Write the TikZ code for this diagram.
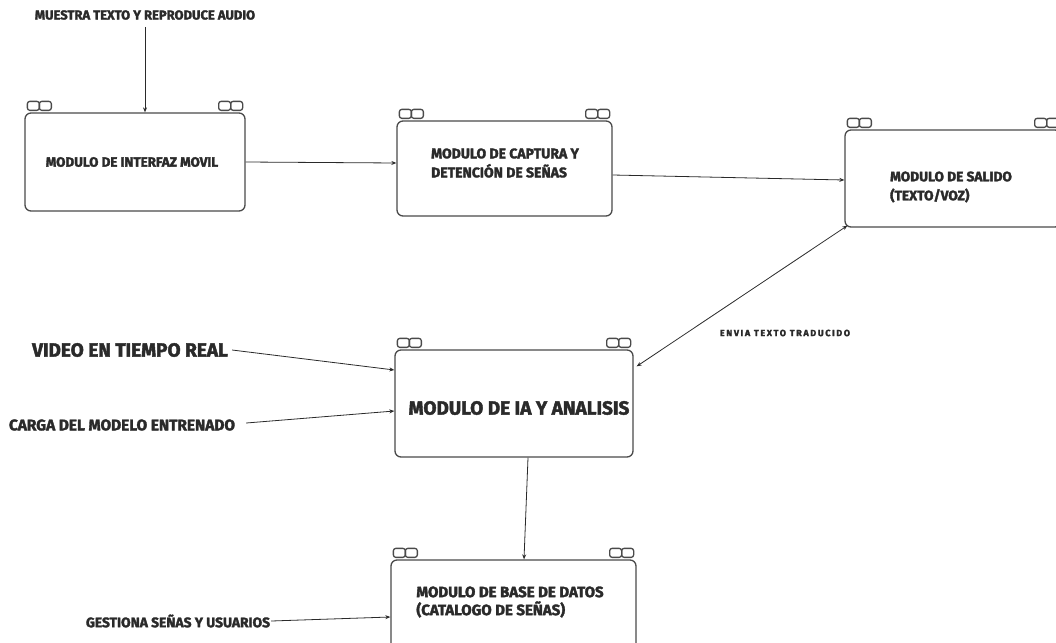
\documentclass[tikz,border=0pt]{standalone}
\usepackage{fontspec}
\setmainfont{Fira Sans}
\newfontfamily\hv{Fira Sans}[BoldFeatures={FakeBold=2.2}]
\usetikzlibrary{arrows.meta,calc}
\definecolor{ink}{HTML}{2A2A2A}
\definecolor{edge}{HTML}{4A4A4A}
\tikzset{
  modbox/.style={draw=edge,line width=1.3pt,rounded corners=6pt,inner sep=0pt},
  boxtext/.style={text=ink,inner sep=0pt,align=left,font=\hv\bfseries},
  lbl/.style={text=ink,inner sep=1pt,font=\hv\bfseries},
  conn/.style={draw=ink,line width=0.8pt,-{Stealth[length=5pt,width=4pt]}},
  ooline/.style={draw=edge,line width=1.3pt,rounded corners=2.5pt},
  oo/.pic={\draw[ooline] (0,0) rectangle (12,-9); \draw[ooline] (12,0) rectangle (24,-9);}
}
\begin{document}
\begin{tikzpicture}[x=1pt,y=-1pt]
\useasboundingbox (0,0) rectangle (1056,642);
% boxes
\node[modbox,minimum width=220pt,minimum height=98pt] (b1) at (135,162) {};
\node[modbox,minimum width=215pt,minimum height=95pt] (b2) at (504.5,168.5) {};
\node[modbox,minimum width=216pt,minimum height=97pt] (b3) at (953,178.5) {};
\node[modbox,minimum width=238pt,minimum height=107pt] (b4) at (514,403.5) {};
\node[modbox,minimum width=245pt,minimum height=90pt] (b5) at (513.5,605) {};
% box texts
\node[boxtext,font=\hv\bfseries\fontsize{13.4}{16}\selectfont] (t1) at (132,162) {MODULO DE INTERFAZ MOVIL};
\node[boxtext,font=\hv\bfseries\fontsize{14}{19}\selectfont] (t2) at (505,163) {MODULO DE CAPTURA Y\\DETENCIÓN DE SEÑAS};
\node[boxtext,font=\hv\bfseries\fontsize{13.7}{19}\selectfont] (t3) at (951,187) {MODULO DE SALIDO\\(TEXTO/VOZ)};
\node[boxtext,font=\hv\bfseries\fontsize{19}{22}\selectfont] (t4) at (519,408) {MODULO DE IA Y ANALISIS};
\node[boxtext,font=\hv\bfseries\fontsize{15}{18}\selectfont] (t5) at (510,602) {MODULO DE BASE DE DATOS\\(CATALOGO DE SEÑAS)};
% oo decorations
\foreach \b in {b1,b2,b3,b4,b5}{
  \pic at ($(\b.north west)+(3,-2)$) {oo};
  \pic at ($(\b.north east)+(-27,-2)$) {oo};
}
% labels
\node[lbl,font=\hv\bfseries\fontsize{13}{15}\selectfont] (lm) at (145,15) {MUESTRA TEXTO Y REPRODUCE AUDIO};
\node[lbl,font=\hv\bfseries\fontsize{9}{11}\selectfont\addfontfeature{LetterSpace=18}] (le) at (785,333) {ENVIA TEXTO TRADUCIDO};
\node[lbl,font=\hv\bfseries\fontsize{19}{22}\selectfont] (lv) at (130,350) {VIDEO EN TIEMPO REAL};
\node[lbl,font=\hv\bfseries\fontsize{15.4}{18}\selectfont] (lc) at (122,425) {CARGA DEL MODELO ENTRENADO};
\node[lbl,font=\hv\bfseries\fontsize{13.8}{16}\selectfont] (lg) at (178,621) {GESTIONA SEÑAS Y USUARIOS};
% connectors
\draw[conn] ($(lm.south)+(0,6)$) -- ([xshift=10pt]b1.north);
\draw[conn] (b1.east) -- ([yshift=5.5pt]b2.west);
\draw[conn] ([yshift=-6.5pt]b2.east) -- ([yshift=-1.5pt]b3.west);
\draw[conn,{Stealth[length=5pt,width=4pt]}-{Stealth[length=5pt,width=4pt]}] ($(b3.south west)+(3,-2)$) -- ($(b4.north east)+(3,17)$);
\draw[conn] ($(lv.east)+(3,0)$) -- ([yshift=33.5pt]b4.west);
\draw[conn] ($(lc.east)+(10,-2)$) -- ([yshift=-7.5pt]b4.west);
\draw[conn] ([xshift=14pt]b4.south) -- ([xshift=10.5pt]b5.north);
\draw[conn] (lg.east) -- ([yshift=-12pt]b5.west);
\end{tikzpicture}
\end{document}
